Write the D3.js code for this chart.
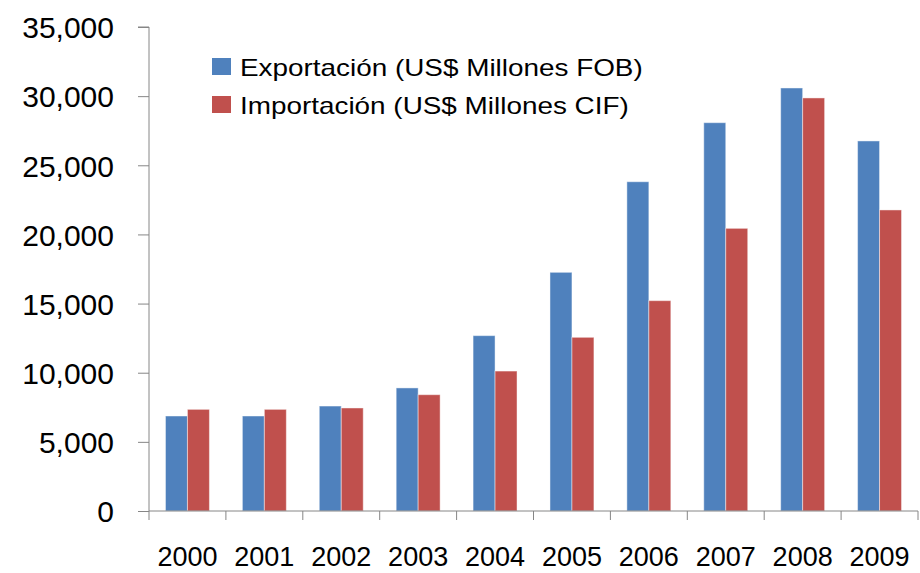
<!DOCTYPE html>
<html>
<head>
<meta charset="utf-8">
<script src="https://cdn.jsdelivr.net/npm/d3@7"></script>
<style>
  html, body { margin: 0; padding: 0; background: #fff; }
  svg { display: block; }
</style>
</head>
<body>
<div id="chart"></div>
<script>
// Exports / imports by year (US$ millions)
const years = ['2000', '2001', '2002', '2003', '2004', '2005', '2006', '2007', '2008', '2009']
const exportsFob = [6870, 6870, 7590, 8900, 12680, 17260, 23810, 28080, 30590, 26760]
const importsCif = [7350, 7350, 7450, 8410, 10120, 12560, 15210, 20440, 29870, 21770]
const seriesNames = ['Exportación (US$ Millones FOB)', 'Importación (US$ Millones CIF)']
const seriesColors = ['#4F81BD', '#C0504D']
const yTicks = [0, 5000, 10000, 15000, 20000, 25000, 30000, 35000]

const width = 920
const height = 573
const margin = { top: 27, right: 2, bottom: 62, left: 149 }
const fontFamily = '"Liberation Sans", Arial, sans-serif'
const axisColor = '#868686'

const svg = d3.select('#chart')
  .append('svg')
  .attr('width', width)
  .attr('height', height)

const plotW = width - margin.left - margin.right
const plotH = height - margin.top - margin.bottom

const x0 = d3.scaleBand()
  .domain(years)
  .range([margin.left, margin.left + plotW])

const x1 = d3.scaleBand()
  .domain([0, 1])
  .range([0, x0.bandwidth()])
  .paddingOuter(0.75)
  .paddingInner(0)

const y = d3.scaleLinear()
  .domain([0, 35000])
  .range([margin.top + plotH, margin.top])

// Bars
const rows = years.map((yr, i) => ({ year: yr, values: [exportsFob[i], importsCif[i]] }))

const groups = svg.selectAll('.group')
  .data(rows)
  .join('g')
  .attr('class', 'group')
  .attr('transform', d => `translate(${x0(d.year)},0)`)

groups.selectAll('rect')
  .data(d => d.values.map((v, k) => ({ k, v })))
  .join('rect')
  .attr('x', d => x1(d.k))
  .attr('y', d => y(d.v))
  .attr('width', x1.bandwidth())
  .attr('height', d => y(0) - y(d.v))
  .attr('fill', d => seriesColors[d.k])
  .attr('stroke', 'rgba(255,255,255,0.45)')
  .attr('stroke-width', 1)

// Y axis
const yAxis = d3.axisLeft(y)
  .tickValues(yTicks)
  .tickSize(11)
  .tickPadding(24)
  .tickFormat(d3.format(','))

const gy = svg.append('g')
  .attr('transform', `translate(${margin.left},0)`)
  .call(yAxis)

gy.select('.domain').attr('stroke', axisColor).attr('d', `M-11,${y(35000)}H0V${y(0)}`)
gy.selectAll('.tick line').attr('stroke', axisColor)
gy.selectAll('.tick text')
  .attr('fill', '#000')
  .attr('font-family', fontFamily)
  .attr('font-size', 30)
  .attr('dy', '0.36em')

// X axis: ticks on band boundaries
const boundaries = years.map(yr => x0(yr)).concat([margin.left + plotW])

svg.append('line')
  .attr('x1', margin.left)
  .attr('x2', margin.left + plotW)
  .attr('y1', y(0))
  .attr('y2', y(0))
  .attr('stroke', axisColor)

svg.selectAll('.xtick')
  .data(boundaries)
  .join('line')
  .attr('class', 'xtick')
  .attr('x1', d => d)
  .attr('x2', d => d)
  .attr('y1', y(0))
  .attr('y2', y(0) + 9)
  .attr('stroke', axisColor)

svg.selectAll('.xlabel')
  .data(years)
  .join('text')
  .attr('class', 'xlabel')
  .attr('x', d => x0(d) + x0.bandwidth() / 2)
  .attr('y', 566)
  .attr('text-anchor', 'middle')
  .attr('font-family', fontFamily)
  .attr('font-size', 27)
  .attr('fill', '#000')
  .text(d => d)

// Legend
const legend = svg.append('g')
  .attr('transform', 'translate(212,58)')

const item = legend.selectAll('.item')
  .data(seriesNames)
  .join('g')
  .attr('class', 'item')
  .attr('transform', (d, i) => `translate(0,${i * 38})`)

item.append('rect')
  .attr('width', 19)
  .attr('height', 17)
  .attr('fill', (d, i) => seriesColors[i])

const legendText = item.append('text')
  .attr('x', 0)
  .attr('y', 18)
  .attr('font-family', fontFamily)
  .attr('font-size', 23)
  .attr('fill', '#000')
  .text(d => d)

// stretch legend labels horizontally to match the reference's wide face
const stretch = 403 / legendText.node().getComputedTextLength()
legendText.attr('transform', `translate(28,0) scale(${stretch},1)`)
</script>
</body>
</html>
